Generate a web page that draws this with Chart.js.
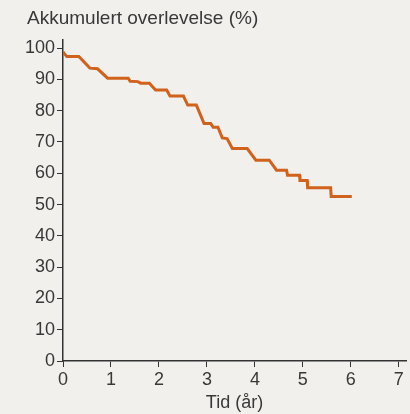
<!DOCTYPE html>
<html>
<head>
<meta charset="utf-8">
<script src="https://cdn.jsdelivr.net/npm/chart.js@4/dist/chart.umd.min.js"></script>
<style>
  html, body { margin: 0; padding: 0; background: #f1f0ed; }
  #wrap { position: relative; width: 410px; height: 414px; }
  #title {
    position: absolute; left: 27px; top: 7px;
    font-family: "Liberation Sans", Arial, sans-serif; font-size: 19px; color: #383838;
  }
</style>
</head>
<body>
<div id="wrap">
  <div id="title">Akkumulert overlevelse (%)</div>
  <canvas id="chart" width="410" height="414"></canvas>
</div>
<script>
// Overlevelseskurve - punkter
const tidAar = [0, 0.08, 0.33, 0.56, 0.72, 0.93, 1.36, 1.40, 1.56, 1.62, 1.80, 1.93, 2.16, 2.23, 2.51,
  2.60, 2.78, 2.94, 3.08, 3.13, 3.23, 3.32, 3.42, 3.53, 3.84, 4.02, 4.30, 4.45, 4.66, 4.68, 4.93,
  4.94, 5.09, 5.10, 5.58, 5.59, 6.02];
const overlevelse = [98.8, 97.3, 97.3, 93.6, 93.4, 90.4, 90.4, 89.4, 89.3, 88.8, 88.8, 86.6, 86.6, 84.7, 84.7,
  81.8, 81.8, 75.9, 75.9, 74.7, 74.7, 71.3, 71.1, 67.9, 67.9, 64.2, 64.2, 61.0, 61.0, 59.4, 59.4,
  57.7, 57.7, 55.4, 55.4, 52.6, 52.6];
const yTicks = [0, 10, 20, 30, 40, 50, 60, 70, 80, 90, 100];
const xTicks = [0, 1, 2, 3, 4, 5, 6, 7];

const punkter = tidAar.map((t, i) => ({ x: t, y: overlevelse[i] }));
const fontBase = { family: '"Liberation Sans", Arial, sans-serif', size: 18 };

new Chart(document.getElementById('chart'), {
  type: 'scatter',
  data: {
    datasets: [{
      data: punkter,
      showLine: true,
      borderColor: '#d0621d',
      borderWidth: 3,
      pointRadius: 0,
      tension: 0,
      fill: false
    }]
  },
  options: {
    responsive: false,
    animation: false,
    layout: { padding: { top: 40, right: 4, left: 0, bottom: 0 } },
    plugins: { legend: { display: false }, tooltip: { enabled: false } },
    scales: {
      x: {
        type: 'linear', min: 0, max: 7.15,
        afterBuildTicks: s => { s.ticks = xTicks.map(v => ({ value: v })); },
        afterFit: s => { s.height = 53; },
        grid: { display: true, drawOnChartArea: false, drawTicks: true, tickLength: 6, color: '#333', tickColor: '#333' },
        border: { color: '#333', width: 1.5 },
        ticks: { color: '#383838', font: fontBase, padding: 2 },
        title: { display: true, text: 'Tid (år)', color: '#383838', font: fontBase, padding: { top: 2, bottom: 0 } }
      },
      y: {
        type: 'linear', min: 0, max: 102.6,
        afterBuildTicks: s => { s.ticks = yTicks.map(v => ({ value: v })); },
        afterFit: s => { s.width = 63; },
        grid: { display: true, drawOnChartArea: false, drawTicks: true, tickLength: 6, color: '#333', tickColor: '#333' },
        border: { color: '#333', width: 1.5 },
        ticks: { color: '#383838', font: fontBase, padding: 2 }
      }
    }
  }
});
</script>
</body>
</html>
